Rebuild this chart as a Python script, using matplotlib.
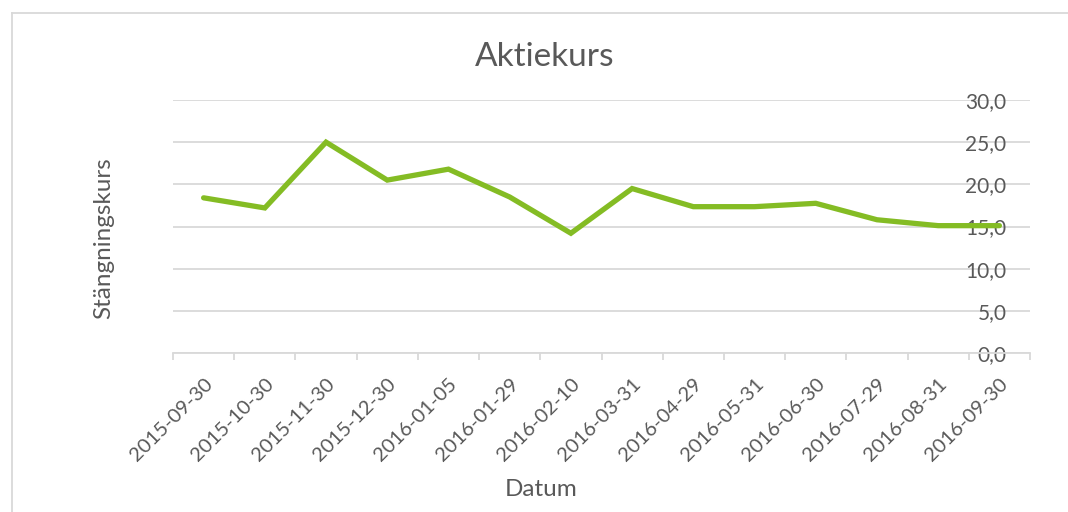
import matplotlib
matplotlib.use("Agg")
import matplotlib.pyplot as plt
from matplotlib.lines import Line2D

dates = ["2015-09-30", "2015-10-30", "2015-11-30", "2015-12-30", "2016-01-05",
         "2016-01-29", "2016-02-10", "2016-03-31", "2016-04-29", "2016-05-31",
         "2016-06-30", "2016-07-29", "2016-08-31", "2016-09-30"]
closing = [18.4, 17.2, 25.0, 20.5, 21.8, 18.5, 14.2, 19.5, 17.35, 17.35,
           17.75, 15.8, 15.1, 15.1]
y_ticks = [0, 5, 10, 15, 20, 25, 30]
y_labels = ["0,0", "5,0", "10,0", "15,0", "20,0", "25,0", "30,0"]

plt.rcParams['font.family'] = ['Lato', 'DejaVu Sans']
TXT = '#595959'
GRID = '#D9D9D9'
W, H = 1068, 512

fig = plt.figure(figsize=(W / 100, H / 100), dpi=100)
fig.patch.set_facecolor('white')
# chart-area border (top and left edges visible)
fig.add_artist(Line2D([12 / W, 1.0], [1 - 13 / H, 1 - 13 / H],
                      transform=fig.transFigure, color=GRID, linewidth=1.3))
fig.add_artist(Line2D([12 / W, 12 / W], [0.0, 1 - 13 / H],
                      transform=fig.transFigure, color=GRID, linewidth=1.3))

ax = fig.add_axes([173 / W, 1 - 353 / H, (1030 - 173) / W, (353 - 100) / H])
x = list(range(len(dates)))
ax.plot(x, closing, color='#84BC24', linewidth=3.8, solid_capstyle='round',
        solid_joinstyle='miter', zorder=3)

ax.set_xlim(-0.5, len(dates) - 0.5)
ax.set_ylim(0, 30)
for s in ['top', 'right', 'left']:
    ax.spines[s].set_visible(False)
ax.spines['bottom'].set_color(GRID)
ax.spines['bottom'].set_linewidth(1.3)

ax.set_yticks(y_ticks)
ax.set_yticklabels(y_labels)
ax.yaxis.tick_right()
ax.tick_params(axis='y', length=0, pad=-17, labelsize=15, labelcolor=TXT)
for lab in ax.get_yticklabels():
    lab.set_horizontalalignment('right')
ax.grid(axis='y', color=GRID, linewidth=1.3, zorder=0)
ax.set_axisbelow(True)

ax.set_xticks(x)
ax.set_xticklabels(dates, rotation=45, ha='right', rotation_mode='anchor',
                   fontsize=14.5, color=TXT)
ax.tick_params(axis='x', length=0, pad=16)
ax.set_xticks([i - 0.5 for i in range(len(dates) + 1)], minor=True)
ax.tick_params(axis='x', which='minor', length=5, width=1.3, color=GRID)

fig.text(545 / W, 1 - 57 / H, "Aktiekurs", ha='center', va='center',
         fontsize=24, color=TXT)
fig.text(541 / W, 1 - 490 / H, "Datum", ha='center', va='center',
         fontsize=17.5, color=TXT)
fig.text(104 / W, 1 - 238 / H, "Stängningskurs", ha='center', va='center',
         rotation=90, fontsize=17.5, color=TXT)

fig.savefig("out.png", dpi=100, facecolor='white')
